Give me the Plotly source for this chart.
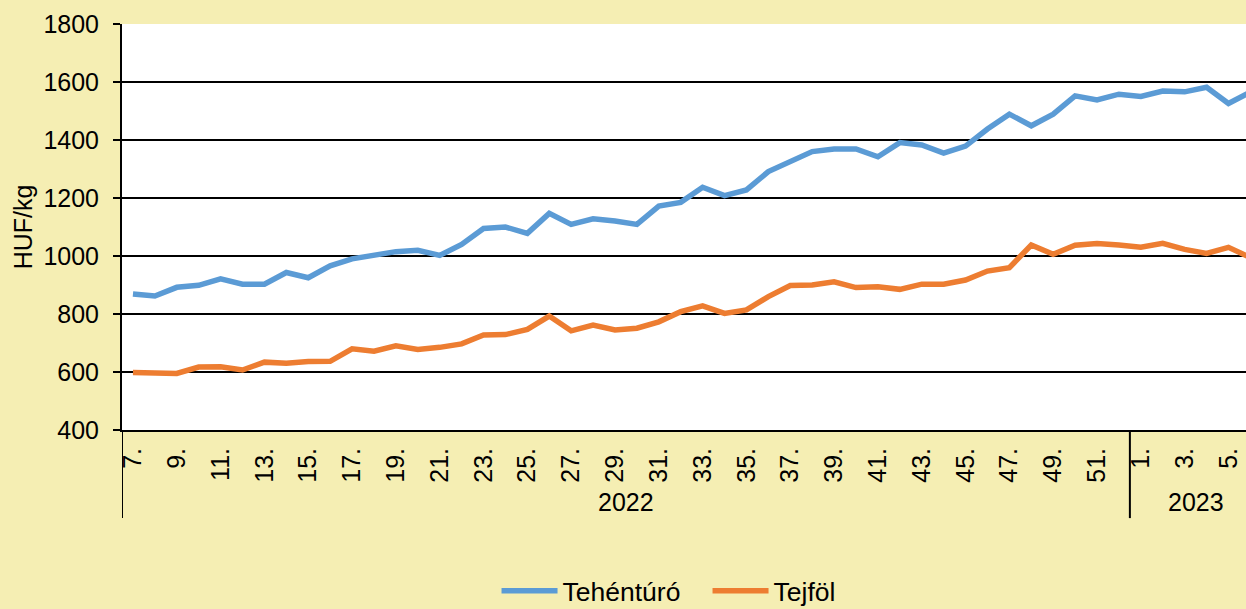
import plotly.graph_objects as go

years = ["2022"] * 46 + ["2023"] * 6
weeks = list(range(7, 53)) + list(range(1, 7))

tehenturo = [869, 862, 892, 899, 921, 903, 903, 943, 925, 966, 990, 1003, 1015, 1020, 1002,
             1040, 1095, 1100, 1078, 1147, 1109, 1128, 1121, 1109, 1172, 1185, 1237, 1208,
             1228, 1291, 1325, 1360, 1369, 1369, 1342, 1391, 1383, 1355, 1379, 1438, 1489,
             1449, 1489, 1552, 1538, 1558, 1550, 1569, 1566, 1582, 1526, 1565]
tejfol = [598, 595, 595, 617, 618, 607, 634, 630, 636, 637, 680, 672, 690, 678, 685, 697,
          728, 729, 747, 793, 742, 762, 745, 751, 773, 808, 828, 802, 814, 860, 898, 900,
          911, 891, 894, 885, 903, 903, 917, 948, 960, 1038, 1006, 1037, 1043, 1038, 1030,
          1044, 1023, 1009, 1030, 995]

idx = list(range(len(weeks)))
tickvals = [i for i, w in enumerate(weeks) if w % 2 == 1]
ticktext = [f"{weeks[i]}." for i in tickvals]

FONT = "Liberation Sans, Arial, sans-serif"
FS = 25
fig = go.Figure()
fig.add_trace(go.Scatter(x=idx, y=tehenturo, mode="lines", name="Tehéntúró",
                         line=dict(color="#5B9BD5", width=5.5)))
fig.add_trace(go.Scatter(x=idx, y=tejfol, mode="lines", name="Tejföl",
                         line=dict(color="#ED7D31", width=5.5)))

# year boundaries
bounds = [-0.5]
year_groups = []
start = 0
for i in range(1, len(years) + 1):
    if i == len(years) or years[i] != years[start]:
        year_groups.append((years[start], start, i - 1))
        if i < len(years):
            bounds.append(i - 0.5)
        start = i

shapes = []
for b in bounds:
    shapes.append(dict(type="line", xref="x", yref="paper", x0=b, x1=b, y0=0, y1=-0.217,
                       line=dict(color="black", width=2)))
annotations = []
for y, s, e in year_groups:
    annotations.append(dict(x=(s + e) / 2, y=-0.177, xref="x", yref="paper", text=y,
                            showarrow=False, font=dict(size=FS, color="black", family=FONT),
                            yanchor="middle", xanchor="center"))

fig.update_layout(
    width=1246, height=609,
    margin=dict(l=122, r=0, t=24, b=179, autoexpand=False),
    paper_bgcolor="#F5EEB3",
    plot_bgcolor="white",
    font=dict(family=FONT, size=FS, color="black"),
    showlegend=True,
    legend=dict(orientation="h", xref="container", yref="container",
                x=0.3985, xanchor="left", y=(609 - 591) / 609, yanchor="middle",
                font=dict(size=26.5), bgcolor="rgba(0,0,0,0)", itemwidth=56,
                entrywidth=140, entrywidthmode="pixels"),
    shapes=shapes,
    annotations=annotations,
)
fig.update_xaxes(range=[-0.5, 50.8], tickmode="array", tickvals=tickvals, ticktext=ticktext,
                 tickangle=-90, showgrid=False, zeroline=False, showline=True,
                 linecolor="black", linewidth=2, ticks="", tickfont=dict(size=FS),
                 ticklabelstandoff=6)
fig.update_yaxes(range=[400, 1800], dtick=200, showgrid=True, gridcolor="black", gridwidth=2,
                 zeroline=False, showline=True, linecolor="black", linewidth=2,
                 ticks="outside", ticklen=7, tickcolor="black", tickwidth=2,
                 tickfont=dict(size=FS), ticklabelstandoff=9,
                 title=dict(text="HUF/kg", font=dict(size=FS), standoff=4))
fig.write_html("out.html", config={"displayModeBar": False},
               post_script="document.body.style.margin='0';document.body.style.padding='0';")
